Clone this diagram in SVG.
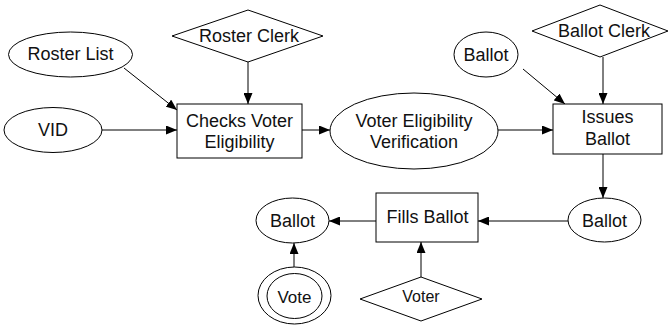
<svg xmlns="http://www.w3.org/2000/svg" width="668" height="331" viewBox="0 0 668 331">
<defs>
<marker id="arr" markerUnits="userSpaceOnUse" markerWidth="11" markerHeight="9" refX="11" refY="4.5" orient="auto">
<path d="M0,0 L11,4.5 L0,9 z" fill="#000"/>
</marker>
<style>
.s{fill:#fff;stroke:#000;stroke-width:1}
.t{font-family:"Liberation Sans",Arial,Helvetica,sans-serif;font-size:18px;fill:#111;text-anchor:middle}
.c{stroke:#000;stroke-width:1;fill:none;marker-end:url(#arr)}
</style>
</defs>
<rect width="668" height="331" fill="#fff"/>
<g id="connectors">
<line class="c" x1="124" y1="68" x2="177" y2="110"/>
<line class="c" x1="248" y1="62" x2="248" y2="104"/>
<line class="c" x1="102" y1="130" x2="177" y2="130"/>
<line class="c" x1="302" y1="130" x2="330" y2="130"/>
<line class="c" x1="498" y1="130" x2="553" y2="130"/>
<line class="c" x1="523" y1="69" x2="565" y2="104"/>
<line class="c" x1="603" y1="57" x2="603" y2="104"/>
<line class="c" x1="603" y1="154" x2="603" y2="198"/>
<line class="c" x1="568" y1="221" x2="478" y2="221"/>
<line class="c" x1="376" y1="221" x2="329" y2="221"/>
<line class="c" x1="421" y1="277" x2="421" y2="242"/>
<line class="c" x1="294" y1="267" x2="294" y2="243"/>
</g>
<g id="roster-list"><ellipse class="s" cx="70.5" cy="54.5" rx="62" ry="22.5"/><text class="t" x="70.5" y="60">Roster List</text></g>
<g id="roster-clerk"><polygon class="s" points="172,36 248,10 323,36 248,62"/><text class="t" x="249" y="42">Roster Clerk</text></g>
<g id="vid"><ellipse class="s" cx="53" cy="130" rx="49" ry="22.5"/><text class="t" x="53" y="136">VID</text></g>
<g id="checks"><rect class="s" x="177" y="104" width="125" height="54"/><text class="t" x="239.5" y="127">Checks Voter</text><text class="t" x="239.5" y="148">Eligibility</text></g>
<g id="vev"><ellipse class="s" cx="414" cy="131" rx="84" ry="38"/><text class="t" x="414" y="127">Voter Eligibility</text><text class="t" x="414" y="148">Verification</text></g>
<g id="ballot-top"><ellipse class="s" cx="486" cy="54.5" rx="32" ry="22.5"/><text class="t" x="486" y="61">Ballot</text></g>
<g id="ballot-clerk"><polygon class="s" points="532,31 600,5 668,31 600,57"/><text class="t" x="604" y="37">Ballot Clerk</text></g>
<g id="issues"><rect class="s" x="553" y="104" width="109" height="50"/><text class="t" x="607.5" y="123">Issues</text><text class="t" x="607.5" y="145">Ballot</text></g>
<g id="ballot-right"><ellipse class="s" cx="604.5" cy="220" rx="36.5" ry="22"/><text class="t" x="604.5" y="227">Ballot</text></g>
<g id="fills"><rect class="s" x="376" y="193" width="102" height="49"/><text class="t" x="427.5" y="223">Fills Ballot</text></g>
<g id="ballot-left"><ellipse class="s" cx="292.5" cy="220.5" rx="36.5" ry="22.5"/><text class="t" x="292.5" y="227">Ballot</text></g>
<g id="vote"><ellipse class="s" cx="294.5" cy="295.5" rx="36.5" ry="28.5"/><ellipse class="s" cx="294.5" cy="296" rx="27.5" ry="22.5"/><text class="t" x="294.5" y="303" style="font-size:17px">Vote</text></g>
<g id="voter"><polygon class="s" points="360,299 421,277 482,299 421,321"/><text class="t" x="421" y="302" style="font-size:16px">Voter</text></g>
</svg>
